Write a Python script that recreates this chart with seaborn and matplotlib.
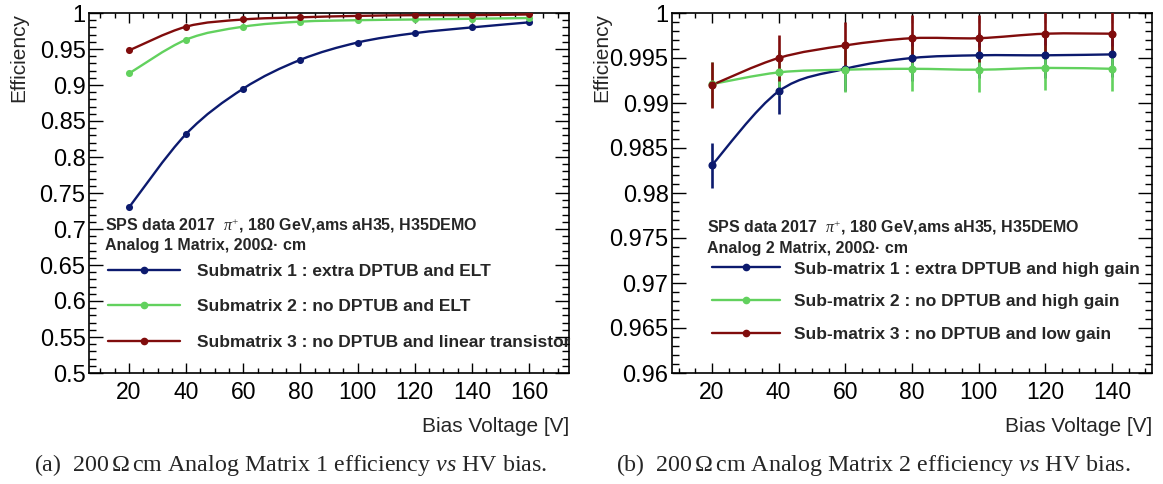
import numpy as np
import matplotlib
matplotlib.use("Agg")
import matplotlib.pyplot as plt
from matplotlib.path import Path
from matplotlib.patches import PathPatch
from matplotlib.lines import Line2D
from matplotlib.ticker import MultipleLocator, FuncFormatter
import seaborn as sns
import pandas as pd

# ---------------- data ----------------
bias_left = [20, 40, 60, 80, 100, 120, 140, 160]
left_sub1 = [0.730, 0.832, 0.895, 0.935, 0.959, 0.972, 0.980, 0.987]
left_sub2 = [0.916, 0.963, 0.981, 0.988, 0.990, 0.991, 0.992, 0.993]
left_sub3 = [0.948, 0.981, 0.991, 0.994, 0.996, 0.997, 0.997, 0.998]
left_labels = ["Submatrix 1 : extra DPTUB and ELT",
               "Submatrix 2 : no DPTUB and ELT",
               "Submatrix 3 : no DPTUB and linear transistor"]

bias_right = [20, 40, 60, 80, 100, 120, 140]
right_sub1 = [0.9831, 0.9913, 0.9938, 0.9950, 0.9953, 0.9953, 0.9954]
right_sub1_err = [0.0025, 0.0025, 0.0025, 0.0025, 0.0025, 0.0025, 0.0025]
right_sub2 = [0.9921, 0.9934, 0.9937, 0.9938, 0.9937, 0.9939, 0.9938]
right_sub2_err = [0.0025, 0.0025, 0.0025, 0.0025, 0.0025, 0.0025, 0.0025]
right_sub3 = [0.9920, 0.9950, 0.9964, 0.9972, 0.9972, 0.9977, 0.9977]
right_sub3_err = [0.0026, 0.0026, 0.0026, 0.0026, 0.0026, 0.0026, 0.0026]
right_labels = ["Sub-matrix 1 : extra DPTUB and high gain",
                "Sub-matrix 2 : no DPTUB and high gain",
                "Sub-matrix 3 : no DPTUB and low gain"]

info_line1 = r"SPS data 2017  $\pi^{+}$, 180 GeV,ams aH35, H35DEMO"
info_left = "Analog 1 Matrix, 200Ω· cm"
info_right = "Analog 2 Matrix, 200Ω· cm"
caption_left = r"(a)  200$\,$Ω$\,$cm Analog Matrix 1 efficiency $\mathit{vs}$ HV bias."
caption_right = r"(b)  200$\,$Ω$\,$cm Analog Matrix 2 efficiency $\mathit{vs}$ HV bias."

colors = ["#0c1a6e", "#62d15e", "#800c0c"]

# ---------------- style ----------------
sns.set_style("ticks")
plt.rcParams["font.family"] = ["Liberation Sans", "DejaVu Sans"]
plt.rcParams["mathtext.fontset"] = "custom"
plt.rcParams["mathtext.rm"] = "Liberation Serif"
plt.rcParams["mathtext.it"] = "Liberation Serif:italic"
plt.rcParams["mathtext.bf"] = "Liberation Serif:bold"

fig = plt.figure(figsize=(11.63, 4.84), dpi=100)
axL = fig.add_axes([89 / 1163, 111 / 484, 480 / 1163, 360 / 484])
axR = fig.add_axes([672 / 1163, 111 / 484, 480 / 1163, 360 / 484])


def smooth_curve(ax, xs, ys, color, lw):
    P = np.column_stack([xs, ys]).astype(float)
    n = len(P)
    verts = [tuple(P[0])]
    codes = [Path.MOVETO]
    for i in range(n - 1):
        p0 = P[i - 1] if i > 0 else P[i]
        p1 = P[i]
        p2 = P[i + 1]
        p3 = P[i + 2] if i + 2 < n else P[i + 1]
        c1 = p1 + (p2 - p0) / 6.0
        c2 = p2 - (p3 - p1) / 6.0
        verts += [tuple(c1), tuple(c2), tuple(p2)]
        codes += [Path.CURVE4] * 3
    patch = PathPatch(Path(verts, codes), facecolor="none", edgecolor=color,
                      lw=lw, zorder=3, capstyle="round")
    ax.add_patch(patch)


def style_axes(ax, xlim, ylim, ymaj, ymin, yfmt):
    ax.set_xlim(*xlim)
    ax.set_ylim(*ylim)
    ax.xaxis.set_major_locator(MultipleLocator(20))
    ax.xaxis.set_minor_locator(MultipleLocator(5))
    ax.yaxis.set_major_locator(MultipleLocator(ymaj))
    ax.yaxis.set_minor_locator(MultipleLocator(ymin))
    ax.yaxis.set_major_formatter(FuncFormatter(yfmt))
    ax.tick_params(axis="both", which="both", direction="in", top=True, right=True,
                   colors="black")
    ax.tick_params(axis="x", which="major", length=7.5, width=1.0, pad=6,
                   labelsize=16.5)
    ax.tick_params(axis="x", which="minor", length=3.8, width=1.0)
    ax.tick_params(axis="y", which="major", length=10, width=1.0, pad=2.5,
                   labelsize=17)
    ax.tick_params(axis="y", which="minor", length=5, width=1.0)
    for s in ax.spines.values():
        s.set_linewidth(1.2)
        s.set_color("black")
        s.set_visible(True)
    ax.set_xlabel("Bias Voltage [V]", fontsize=15, loc="right")
    ax.set_ylabel("Efficiency", fontsize=15, loc="top")
    ax.xaxis.set_label_coords(1.0, -0.121)
    ax.yaxis.set_label_coords(-0.126, 1.0)


def fmt_left(v, pos):
    return f"{v:.2f}".rstrip("0").rstrip(".")


def fmt_right(v, pos):
    return f"{v:.3f}".rstrip("0").rstrip(".")


# ---------------- left panel ----------------
left_series = [left_sub1, left_sub2, left_sub3]
for ys, c in zip(left_series, colors):
    df = pd.DataFrame({"bias": bias_left, "eff": ys})
    smooth_curve(axL, df["bias"], df["eff"], c, 1.7)
    sns.scatterplot(data=df, x="bias", y="eff", ax=axL, color=c, s=26,
                    edgecolor=c, linewidth=0, zorder=4, legend=False)
style_axes(axL, (6, 174), (0.5, 1.0), 0.05, 0.01, fmt_left)

# ---------------- right panel ----------------
right_series = [(right_sub1, right_sub1_err), (right_sub2, right_sub2_err),
                (right_sub3, right_sub3_err)]
for (ys, es), c in zip(right_series, colors):
    df = pd.DataFrame({"bias": bias_right, "eff": ys, "err": es})
    axR.errorbar(df["bias"], df["eff"], yerr=df["err"], fmt="none", ecolor=c,
                 elinewidth=1.9, capsize=0, zorder=3)
    smooth_curve(axR, df["bias"], df["eff"], c, 1.7)
    sns.scatterplot(data=df, x="bias", y="eff", ax=axR, color=c, s=34,
                    edgecolor=c, linewidth=0, zorder=4, legend=False)
style_axes(axR, (8, 152), (0.96, 1.0), 0.005, 0.001, fmt_right)

# ---------------- annotations & legends ----------------
def add_info(ax, x, y1, y2, line2):
    ax.text(x, y1, info_line1, transform=ax.transAxes, fontsize=11.5,
            fontweight="bold", va="center", ha="left")
    ax.text(x, y2, line2, transform=ax.transAxes, fontsize=11.5,
            fontweight="bold", va="center", ha="left")


def add_legend(ax, labels, x0, top, spacing, hl, htp):
    handles = [Line2D([0], [0], color=c, lw=1.7, marker="o", markersize=4.5)
               for c in colors]
    ax.legend(handles, labels, loc="upper left", bbox_to_anchor=(x0, top),
              frameon=False, borderpad=0, borderaxespad=0, handlelength=hl,
              handletextpad=htp, labelspacing=spacing, numpoints=1,
              prop={"weight": "bold", "size": 12.5})


add_info(axL, 0.033, 0.408, 0.353, info_left)
add_legend(axL, labels=left_labels, x0=0.040, top=0.304, spacing=1.18, hl=4.14, htp=0.98)
add_info(axR, 0.0735, 0.403, 0.345, info_right)
add_legend(axR, labels=right_labels, x0=0.083, top=0.310, spacing=1.01, hl=3.9, htp=0.86)

# captions
fig.text(291 / 1163, 1 - 465 / 484, caption_left, fontsize=17.3,
         family="Liberation Serif", ha="center", va="center")
fig.text(873 / 1163, 1 - 465 / 484, caption_right, fontsize=17.3,
         family="Liberation Serif", ha="center", va="center")

fig.savefig("out.png", dpi=100)
